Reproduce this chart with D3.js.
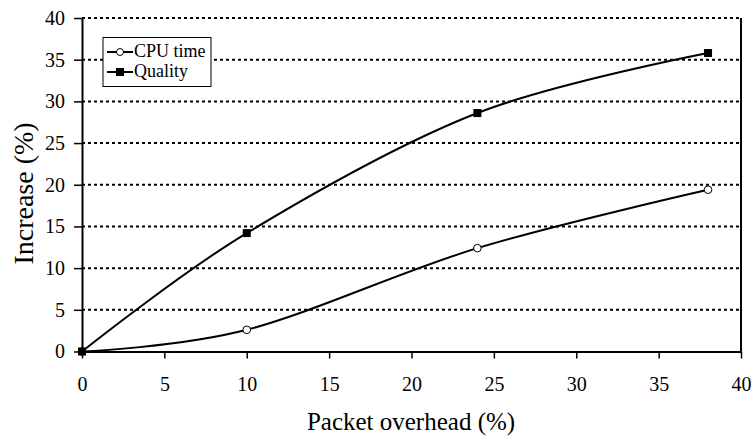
<!DOCTYPE html>
<html>
<head>
<meta charset="utf-8">
<script src="https://cdn.jsdelivr.net/npm/d3@7"></script>
<style>
  body { margin: 0; background: #fff; }
  svg text { font-family: 'Times New Roman', Times, 'Liberation Serif', 'DejaVu Serif', serif; fill: #000; }
</style>
</head>
<body>
<svg id="chart" width="752" height="437"></svg>
<script>
// Packet overhead (%) on the x axis
const overhead = [0, 10, 24, 38];
// Increase (%) for each series
const cpuTime = [0, 2.6, 12.4, 19.4];
const quality = [0, 14.2, 28.6, 35.8];
const seriesNames = ["CPU time", "Quality"];
const xTicks = [0, 5, 10, 15, 20, 25, 30, 35, 40];
const yTicks = [0, 5, 10, 15, 20, 25, 30, 35, 40];

const FONT = "'Times New Roman', Times, 'Liberation Serif', 'DejaVu Serif', serif";
const svg = d3.select("#chart");
const margin = { left: 82, right: 11, top: 18, bottom: 85.5 };
const W = 752, H = 437;

const x = d3.scaleLinear().domain([0, 40]).range([margin.left, W - margin.right]);
const y = d3.scaleLinear().domain([0, 40]).range([H - margin.bottom, margin.top]);

// dotted horizontal gridlines
svg.append("g").selectAll("line")
  .data(yTicks.filter(d => d > 0))
  .join("line")
  .attr("x1", x(0)).attr("x2", x(40))
  .attr("y1", d => y(d)).attr("y2", d => y(d))
  .attr("stroke", "#000").attr("stroke-width", 2)
  .attr("stroke-dasharray", "3,3");

// right border
svg.append("line")
  .attr("x1", x(40)).attr("x2", x(40)).attr("y1", y(40)).attr("y2", y(0))
  .attr("stroke", "#000").attr("stroke-width", 2);

// axes
const xAxis = svg.append("g")
  .attr("transform", `translate(0,${y(0)})`)
  .call(d3.axisBottom(x).tickValues(xTicks).tickSizeInner(7).tickSizeOuter(0).tickPadding(18));
const yAxis = svg.append("g")
  .attr("transform", `translate(${x(0)},0)`)
  .call(d3.axisLeft(y).tickValues(yTicks).tickSizeInner(8).tickSizeOuter(0).tickPadding(9));
[xAxis, yAxis].forEach(g => {
  g.attr("font-family", FONT).attr("font-size", 20);
  g.select(".domain").attr("stroke", "#000").attr("stroke-width", 2);
  g.selectAll(".tick line").attr("stroke", "#000").attr("stroke-width", 1.5);
  g.selectAll(".tick text").style("font-family", FONT).attr("font-size", 20);
});

// axis titles
svg.append("text")
  .attr("x", 411).attr("y", 430)
  .attr("text-anchor", "middle").style("font-family", FONT).attr("font-size", 25)
  .text("Packet overhead (%)");
svg.append("text")
  .attr("transform", "translate(33,193.5) rotate(-90)")
  .attr("text-anchor", "middle").style("font-family", FONT).attr("font-size", 28)
  .text("Increase (%)");

// smoothed series lines
const line = d3.line()
  .x(d => x(d[0])).y(d => y(d[1]))
  .curve(d3.curveCardinal.tension(0));
const cpuPts = overhead.map((v, i) => [v, cpuTime[i]]);
const qualPts = overhead.map((v, i) => [v, quality[i]]);

[cpuPts, qualPts].forEach(pts => {
  svg.append("path").datum(pts).attr("d", line)
    .attr("fill", "none").attr("stroke", "#000").attr("stroke-width", 2);
});

// markers
svg.append("g").selectAll("circle").data(cpuPts).join("circle")
  .attr("cx", d => x(d[0])).attr("cy", d => y(d[1])).attr("r", 3.8)
  .attr("fill", "#fff").attr("stroke", "#000").attr("stroke-width", 1);
svg.append("g").selectAll("rect").data(qualPts).join("rect")
  .attr("x", d => x(d[0]) - 4).attr("y", d => y(d[1]) - 4)
  .attr("width", 8).attr("height", 8).attr("fill", "#000");

// legend
const lg = svg.append("g").attr("transform", "translate(103,37.5)");
lg.append("rect").attr("width", 108).attr("height", 49)
  .attr("fill", "#fff").attr("stroke", "#000").attr("stroke-width", 1);
seriesNames.forEach((name, i) => {
  const cy = 14.5 + i * 20;
  lg.append("line").attr("x1", 4).attr("x2", 30).attr("y1", cy).attr("y2", cy)
    .attr("stroke", "#000").attr("stroke-width", 2);
  if (i === 0) {
    lg.append("circle").attr("cx", 17).attr("cy", cy).attr("r", 3.5)
      .attr("fill", "#fff").attr("stroke", "#000");
  } else {
    lg.append("rect").attr("x", 13).attr("y", cy - 4).attr("width", 8).attr("height", 8)
      .attr("fill", "#000");
  }
  lg.append("text").attr("x", 31).attr("y", cy + 5)
    .style("font-family", FONT).attr("font-size", 18).text(name);
});
</script>
</body>
</html>
